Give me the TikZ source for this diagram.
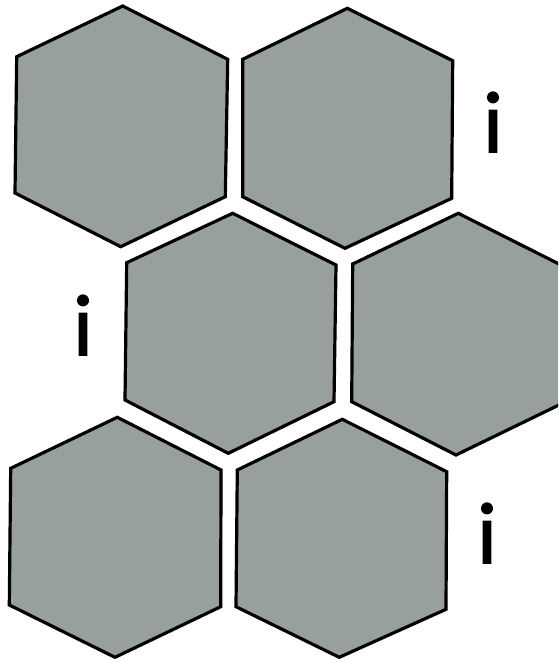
\documentclass[tikz,border=0pt]{standalone}
\usepackage{fontspec}
\setmainfont{Lato}
\newfontfamily\ifont[FakeBold=2]{Lato}
\begin{document}
\begin{tikzpicture}[x=1pt,y=-1pt,
  hexa/.style={draw=black,line width=3.2pt,fill=hexgray,line join=miter},
  letter/.style={anchor=base,inner sep=0pt,font=\ifont\fontsize{82}{82}\selectfont}]
\definecolor{hexgray}{RGB}{152,160,157}
\useasboundingbox (0,0) rectangle (558,662);
\begin{scope}
\clip (0,0) rectangle (558,662);
% top row
\draw[hexa] (122.7,6) -- (227.7,59.3) -- (225.3,196.7) -- (120.7,246.7) -- (15,193) -- (16.7,56.7) -- cycle;
\draw[hexa] (347.3,8.3) -- (452.7,60.7) -- (451.7,198.3) -- (345,248.3) -- (242.7,196.7) -- (242.7,59.3) -- cycle;
% middle row
\draw[hexa] (232.7,213.3) -- (336,265) -- (334,401.7) -- (228.3,453.3) -- (125,400) -- (126.7,262.7) -- cycle;
\draw[hexa] (458.3,213.3) -- (563,266) -- (561,404) -- (456,455) -- (351.7,401.7) -- (352.7,264) -- cycle;
% bottom row
\draw[hexa] (117.3,417.3) -- (221,470) -- (220.7,606.7) -- (115,657.3) -- (9.3,605) -- (10.7,468.3) -- cycle;
\draw[hexa] (342.3,419.3) -- (446.7,471.7) -- (446,609.3) -- (339.3,657.3) -- (236,606.7) -- (237.3,470) -- cycle;
\end{scope}
\node[letter] (i1) at (493,152) {i};
\node[letter] (i2) at (83,355) {i};
\node[letter] (i3) at (487,563) {i};
\end{tikzpicture}
\end{document}
